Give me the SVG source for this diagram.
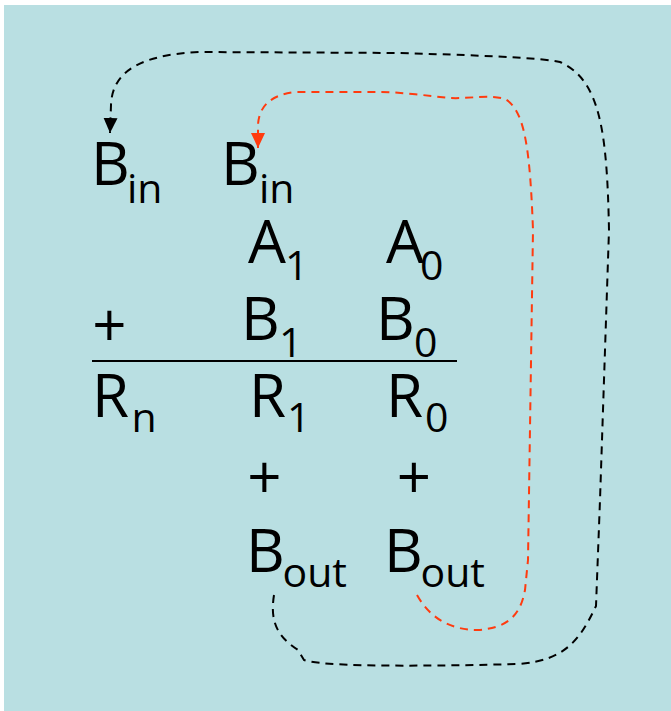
<svg xmlns="http://www.w3.org/2000/svg" width="671" height="711" viewBox="0 0 671 711">
<style>
.m{font-family:"Open Sans","Noto Sans","Liberation Sans",sans-serif;font-size:60px;fill:#000}
.s{font-family:"Open Sans","Noto Sans","Liberation Sans",sans-serif;font-size:41px;fill:#000}
.p{font-family:"Open Sans","Noto Sans","Liberation Sans",sans-serif;font-size:60px;fill:#000;text-anchor:middle}
.dash{fill:none;stroke-width:2;stroke-dasharray:8 6}
</style>
<defs>
<marker id="ab" markerUnits="userSpaceOnUse" markerWidth="16" markerHeight="16" refX="15" refY="7" orient="auto"><path d="M0,0 L15,7 L0,14 z" fill="#000"/></marker>
<marker id="ar" markerUnits="userSpaceOnUse" markerWidth="16" markerHeight="16" refX="15" refY="7" orient="auto"><path d="M0,0 L15,7 L0,14 z" fill="#ff3b0f"/></marker>
</defs>
<rect x="0" y="0" width="671" height="711" fill="#fff"/>
<rect x="4" y="5" width="667" height="706" fill="#b9dfe2"/>
<g id="connectors">
<path class="dash" stroke="#000" marker-end="url(#ab)" d="M274,595 C270,620 276,636 298,650 L304,660 C320,666 400,667 520,664 C565,660 580,640 596,606 L600,500 L609,230 C607,130 600,80 560,62 C540,58 500,56 400,53 L200,52 C130,55 112,78 111,105 L110,133"/>
<path class="dash" stroke="#ff3b0f" marker-end="url(#ar)" d="M417,595 C430,618 450,630 478,630 C505,628 520,618 525,590 L528,560 L533,230 C530,150 525,110 505,99 C490,94 470,99 450,98 C430,96 400,92 380,92 L295,92 C272,95 259,105 258,125 L258,148"/>
</g>
<g id="bin1"><text class="m" x="91" y="185">B</text><text class="s" x="127" y="203">in</text></g>
<g id="bin2"><text class="m" x="221" y="185">B</text><text class="s" x="259" y="203">in</text></g>
<g id="a1"><text class="m" x="248" y="263">A</text><text class="s" x="285" y="280">1</text></g>
<g id="a0"><text class="m" x="386" y="263">A</text><text class="s" x="420" y="280">0</text></g>
<g id="plus1"><text class="p" x="109.5" y="347">+</text></g>
<g id="b1"><text class="m" x="241" y="340">B</text><text class="s" x="279" y="357">1</text></g>
<g id="b0"><text class="m" x="376" y="340">B</text><text class="s" x="414" y="357">0</text></g>
<line id="sumline" x1="92" y1="361" x2="457" y2="361" stroke="#000" stroke-width="2"/>
<g id="rn"><text class="m" x="92" y="417">R</text><text class="s" x="131.5" y="432">n</text></g>
<g id="r1"><text class="m" x="249" y="417">R</text><text class="s" x="287" y="432">1</text></g>
<g id="r0"><text class="m" x="386" y="417">R</text><text class="s" x="425" y="432">0</text></g>
<g id="plus2"><text class="p" x="264.5" y="499">+</text></g>
<g id="plus3"><text class="p" x="414" y="499">+</text></g>
<g id="bout1"><text class="m" x="246" y="572">B</text><text class="s" x="282.5" y="587">out</text></g>
<g id="bout2"><text class="m" x="384" y="572">B</text><text class="s" x="420.5" y="587">out</text></g>
</svg>
